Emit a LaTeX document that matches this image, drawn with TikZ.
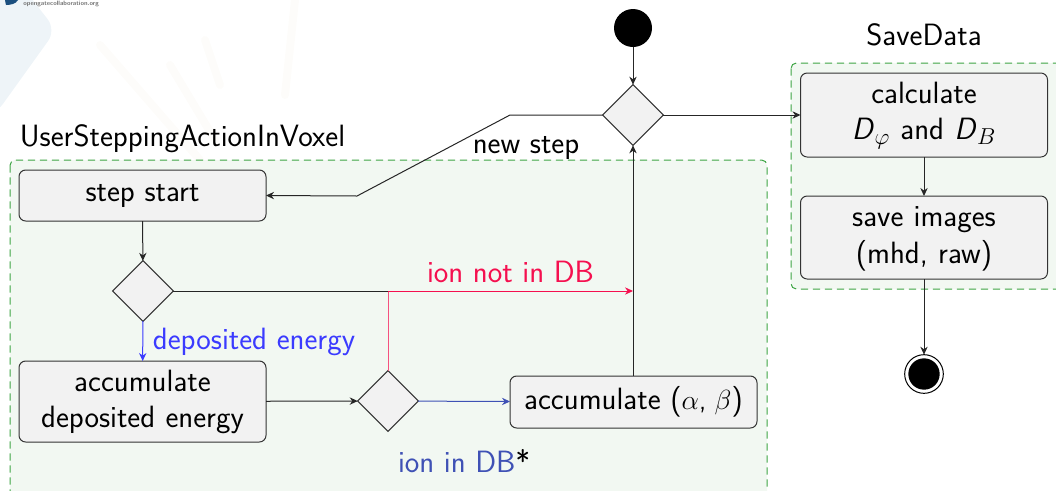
\documentclass[tikz,border=0pt]{standalone}
\usepackage{fontspec}
\usetikzlibrary{arrows.meta,shapes.geometric}
\definecolor{regionfill}{HTML}{F2F8F2}
\definecolor{regionline}{HTML}{3DA544}
\definecolor{boxfill}{HTML}{F2F2F2}
\definecolor{boxline}{HTML}{333333}
\definecolor{hotred}{HTML}{F5104F}
\definecolor{hotpink}{HTML}{F5527F}
\definecolor{brightblue}{HTML}{3B3BFF}
\definecolor{slateblue}{HTML}{3F51B5}
\definecolor{logoblue}{HTML}{1B4F7F}
\definecolor{palepanel}{HTML}{EEF4F8}
\definecolor{palestroke}{HTML}{FDFCFA}
\newcommand{\firstline}{\rule{0pt}{17pt}}
\newcommand{\slantD}{\mbox{\textit{D}}}
\tikzset{
  x=0.75pt,y=-0.75pt,
  every node/.style={font=\sffamily\fontsize{23.1}{27.2}\selectfont,text=black,align=center},
  region/.style={draw=regionline,fill=regionfill,dash pattern=on 5.5pt off 3.5pt,rounded corners=4pt,line width=0.75pt},
  actionbox/.style={draw=boxline,fill=boxfill,rounded corners=5pt,line width=0.75pt,minimum width=185.25pt,inner sep=0pt,outer sep=0pt},
  decision/.style={diamond,draw=boxline,fill=boxfill,line width=0.75pt,minimum width=45.5pt,minimum height=45.5pt,inner sep=0pt,outer sep=0pt,aspect=1},
  flow/.style={-{Stealth[length=6pt,width=5.5pt]},line width=0.75pt,draw=black!85},
  pale/.style={line width=6pt,draw=palestroke,line cap=round},
}
\begin{document}
\begin{tikzpicture}
\useasboundingbox (0,0) rectangle (1056,490);
\begin{scope}
\clip (0,0) rectangle (1056,490);
% faint page background
\fill[palepanel,rounded corners=10pt] (-40,-30) -- (25,-10) -- (56,30) -- (-5,115) -- (-40,115) -- cycle;
\draw[pale] (100,45) -- (200,160);
\draw[pale] (170,65) -- (215,140);
\draw[pale] (205,40) -- (220,85);
\draw[pale] (295,0) -- (285,95);
\fill[logoblue] (5,0) -- (18,0) .. controls (16,4) and (10,5) .. (6,5) -- cycle;
\node[font=\sffamily\bfseries\fontsize{4.8}{5}\selectfont,text=black!55,anchor=west,inner sep=0pt] (logotext) at (23,3.5) {opengatecollaboration.org};
% regions
\draw[region] (10,160) rectangle (767,520);
\draw[region] (791,63) rectangle (1090,289);
\end{scope}
\node[circle,fill=black,minimum size=28.5pt,inner sep=0pt,outer sep=0pt] (start) at (633,28) {};
\node[decision] (top) at (633,115) {};
\node[actionbox,minimum height=38.25pt] (stepstart) at (142.5,195.5) {step start};
\node[decision] (d2) at (143,291) {};
\node[actionbox,minimum height=60.75pt,text width=185pt] (accdep) at (142.5,401.5) {\firstline accumulate\\deposited energy};
\node[decision] (d3) at (388,401) {};
\node[actionbox,minimum height=39pt] (accab) at (633.5,402) {accumulate ({\fontsize{20.5}{25}\selectfont$\alpha$, $\beta$})};
\node[actionbox,minimum height=63pt,text width=185pt] (calc) at (924,115) {\firstline calculate\\$\slantD_\varphi$ and $\slantD_B$};
\node[actionbox,minimum height=62.25pt,text width=185pt] (save) at (924,237.5) {\firstline save images\\(mhd, raw)};
\node[circle,draw=black,line width=0.75pt,fill=white,minimum size=29pt,inner sep=0pt,outer sep=0pt] (stop) at (924,374) {};
\node[circle,fill=black,minimum size=23.5pt,inner sep=0pt] (stopdot) at (924,374) {};
\coordinate (bendA) at (510,115);
\coordinate (bendB) at (357,196);
\coordinate (junction) at (388,291);
\coordinate (merge) at (633,291);
\draw[flow] (start) -- (top);
\draw[flow] (top.west) -- (bendA) -- (bendB) -- (stepstart.east);
\draw[flow] (top.east) -- (calc.west);
\draw[flow] (calc) -- (save);
\draw[flow] (save) -- (stop);
\draw[flow] (stepstart) -- (d2);
\draw[flow,draw=brightblue] (d2) -- (accdep);
\draw[flow] (accdep) -- (d3);
\draw[flow,draw=slateblue] (d3) -- (accab);
\draw[line width=0.75pt,draw=black!85] (d2.east) -- (junction);
\draw[line width=0.75pt,draw=hotpink] (d3.north) -- (junction);
\draw[flow,draw=hotred] (junction) -- (merge);
\draw[flow] (accab.north -| merge) -- (top.south);
\node (titleA) at (182.5,139) {UserSteppingActionInVoxel};
\node (titleB) at (924,35) {SaveData};
\node (newstep) at (526,148) {new step};
\node[text=hotred] (lblnot) at (510.5,272) {ion not in DB};
\node[text=brightblue] (lbldep) at (254,342) {deposited energy};
\node (lblin) at (464,461) {\textcolor{slateblue}{ion in DB}*};
\end{tikzpicture}
\end{document}
